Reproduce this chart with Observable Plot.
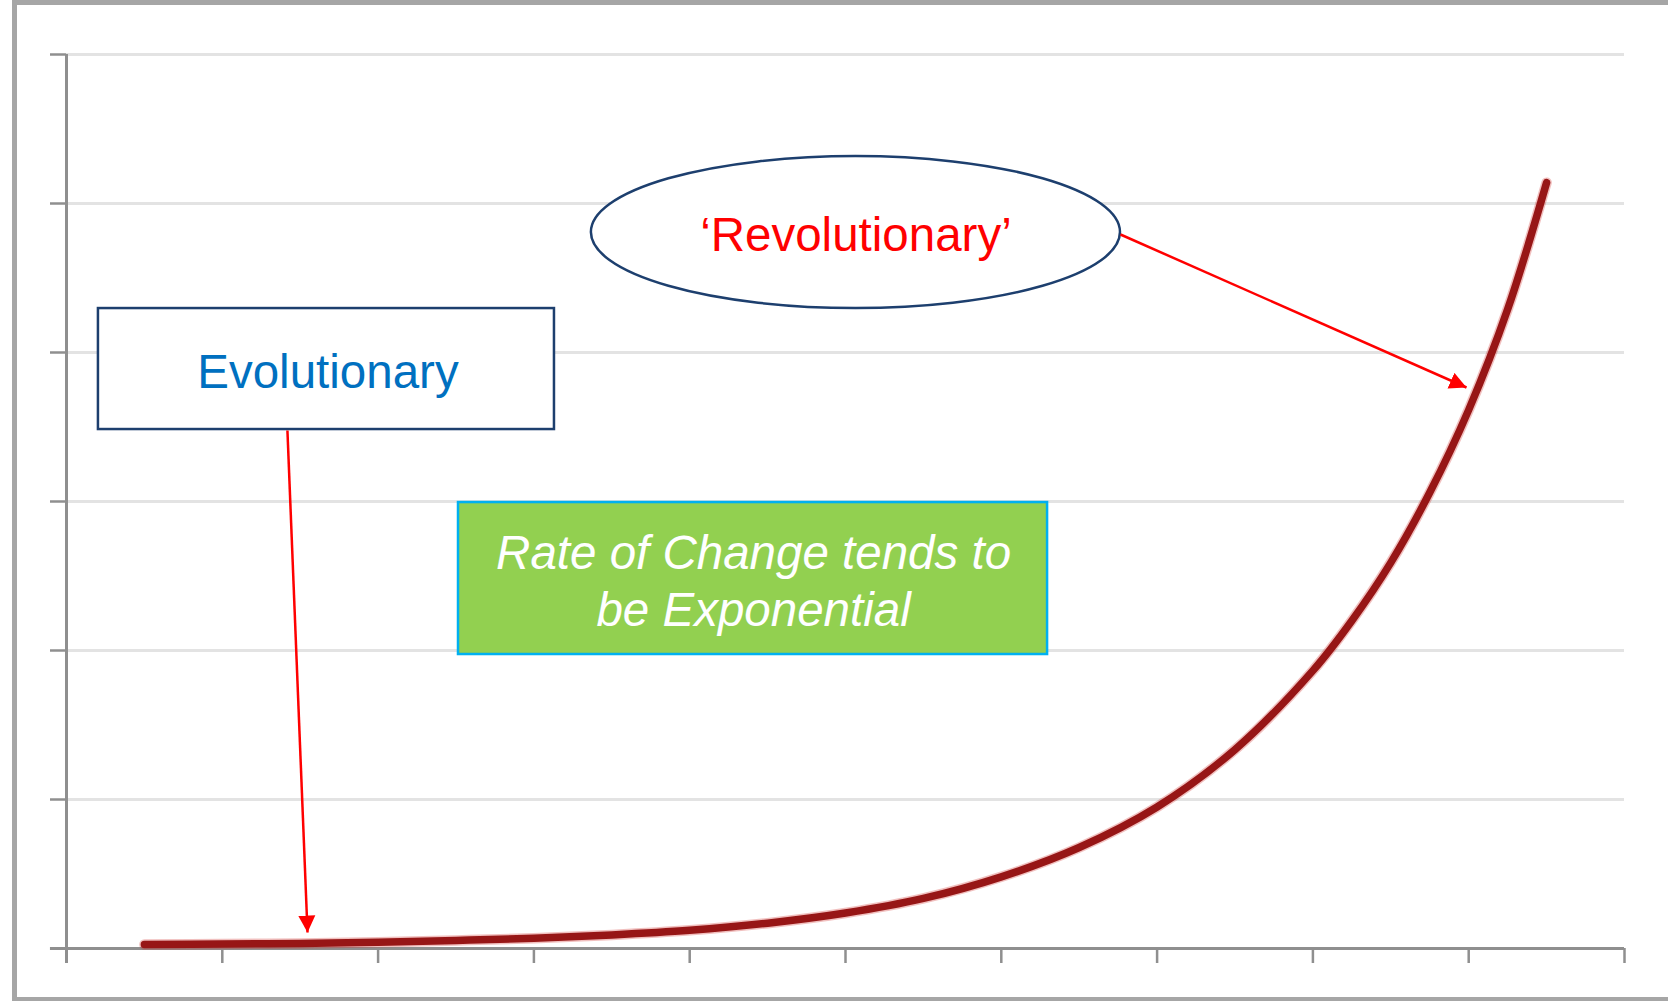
<!DOCTYPE html>
<html>
<head>
<meta charset="utf-8">
<script src="https://cdn.jsdelivr.net/npm/d3@7"></script>
<script src="https://cdn.jsdelivr.net/npm/@observablehq/plot@0.6"></script>
<style>
  html, body { margin: 0; padding: 0; background: #fff; overflow: hidden; }
  #wrap { position: relative; width: 1668px; height: 1001px; }
  #wrap svg { display: block; max-width: none; }
  #border {
    position: absolute; left: 12px; top: 0; width: 1680px; height: 1001px;
    box-sizing: border-box; pointer-events: none;
    border-top: 5px solid #a6a6a6; border-left: 5px solid #a6a6a6; border-bottom: 4px solid #a6a6a6;
  }
</style>
</head>
<body>
<div id="wrap"><div id="border"></div></div>
<script>
// ---- data ----
const xTicks = [0, 1, 2, 3, 4, 5, 6, 7, 8, 9, 10];
const yTicks = [0, 1, 2, 3, 4, 5, 6];
const gridTicks = [1, 2, 3, 4, 5, 6];

const curveX = [0.5, 1.0, 1.5, 2.0, 2.5, 3.0, 3.5, 4.0, 4.5, 5.0, 5.5, 6.0, 6.5, 7.0, 7.5, 8.0, 8.25, 8.5, 8.75, 9.0, 9.25, 9.5];
const curveY = [0.027, 0.030, 0.034, 0.042, 0.054, 0.069, 0.091, 0.122, 0.170, 0.238, 0.336, 0.481, 0.678, 0.950, 1.335, 1.865, 2.20, 2.59, 3.06, 3.615, 4.29, 5.14];

// annotations (in data units)
const labels = ["Evolutionary", "\u2018Revolutionary\u2019", "Rate of Change tends to\nbe Exponential"];
const evoBox = {x1: 0.205, x2: 3.132, y1: 3.483, y2: 4.295};
const greenBox = {x1: 2.516, x2: 6.297, y1: 1.973, y2: 2.993};
const ellipseAnno = {cx: 5.067, cy: 4.805, rx: 1.698, ry: 0.51};
const labelPos = [
  {x: 1.678, y: 3.866},
  {x: 5.067, y: 4.785},
  {x: 4.41, y: 2.48}
];
const arrowFrom = [{x: 1.418, y: 3.477}, {x: 6.765, y: 4.792}];
const arrowTo = [{x: 1.547, y: 0.107}, {x: 8.986, y: 3.765}];

// ---- build tables ----
const series = curveX.map((x, i) => ({x, y: curveY[i]}));
const arrows = arrowFrom.map((f, i) => ({x1: f.x, y1: f.y, x2: arrowTo[i].x, y2: arrowTo[i].y}));

const FONT = "'Liberation Sans', Arial, Helvetica, sans-serif";
const AXIS = "#8f8f8f";
const NAVY = "#1d3f6e";

function filledArrow(color, context) {
  const ns = "http://www.w3.org/2000/svg";
  const doc = (context && context.document) || document;
  const m = doc.createElementNS(ns, "marker");
  m.setAttribute("viewBox", "-17 -9 17 18");
  m.setAttribute("markerWidth", 17);
  m.setAttribute("markerHeight", 18);
  m.setAttribute("markerUnits", "userSpaceOnUse");
  m.setAttribute("refX", 0);
  m.setAttribute("refY", 0);
  m.setAttribute("orient", "auto");
  const p = doc.createElementNS(ns, "path");
  p.setAttribute("d", "M0,0L-17,-8.5L-17,8.5Z");
  p.setAttribute("fill", color);
  p.setAttribute("stroke", "none");
  m.appendChild(p);
  return m;
}

function ellipseMark(index, scales) {
  const ns = "http://www.w3.org/2000/svg";
  const e = document.createElementNS(ns, "ellipse");
  const cx = scales.x(ellipseAnno.cx), cy = scales.y(ellipseAnno.cy);
  e.setAttribute("cx", cx);
  e.setAttribute("cy", cy);
  e.setAttribute("rx", Math.abs(scales.x(ellipseAnno.cx + ellipseAnno.rx) - cx));
  e.setAttribute("ry", Math.abs(scales.y(ellipseAnno.cy + ellipseAnno.ry) - cy));
  e.setAttribute("fill", "white");
  e.setAttribute("stroke", NAVY);
  e.setAttribute("stroke-width", 2.5);
  return e;
}

const chart = Plot.plot({
  width: 1668,
  height: 1001,
  marginLeft: 66,
  marginRight: 44,
  marginTop: 54,
  marginBottom: 53,
  style: {fontFamily: FONT, background: "transparent"},
  x: {domain: [0, 10]},
  y: {domain: [0, 6]},
  marks: [
    Plot.gridY({ticks: gridTicks, stroke: "#e3e3e3", strokeOpacity: 1, strokeWidth: 3}),
    Plot.axisX({ticks: xTicks, tickSize: 15, tickFormat: () => "", stroke: AXIS, strokeWidth: 2.5}),
    Plot.axisY({ticks: yTicks, tickSize: 16, tickFormat: () => "", stroke: AXIS, strokeWidth: 2.5}),
    Plot.ruleX([0], {y1: -0.1, y2: 6, stroke: AXIS, strokeWidth: 3}),
    Plot.ruleY([0], {x1: -0.103, x2: 10, stroke: AXIS, strokeWidth: 3}),
    Plot.line(series, {x: "x", y: "y", curve: "catmull-rom", stroke: "#d0302a", strokeWidth: 10.5, strokeOpacity: 0.3, strokeLinecap: "round"}),
    Plot.line(series, {x: "x", y: "y", curve: "catmull-rom", stroke: "#971616", strokeWidth: 7.5, strokeLinecap: "round"}),
    Plot.rect([evoBox], {x1: "x1", x2: "x2", y1: "y1", y2: "y2", fill: "white", stroke: NAVY, strokeWidth: 2.5}),
    Plot.rect([greenBox], {x1: "x1", x2: "x2", y1: "y1", y2: "y2", fill: "#92d050", stroke: "#00b0f0", strokeWidth: 2.5}),
    ellipseMark,
    Plot.text([labels[0]], {x: labelPos[0].x, y: labelPos[0].y, text: d => d, fill: "#0070c0", fontSize: 47.5, fontFamily: FONT}),
    Plot.text([labels[1]], {x: labelPos[1].x, y: labelPos[1].y, text: d => d, fill: "#ff0000", fontSize: 47.5, fontFamily: FONT}),
    Plot.text([labels[2]], {x: labelPos[2].x, y: labelPos[2].y, text: d => d, fill: "white", fontSize: 47.5, fontStyle: "italic", lineHeight: 1.22, fontFamily: FONT}),
    Plot.link(arrows, {x1: "x1", y1: "y1", x2: "x2", y2: "y2", stroke: "#ff0000", strokeWidth: 2.5, markerEnd: filledArrow})
  ]
});
document.getElementById("wrap").insertBefore(chart, document.getElementById("border"));
</script>
</body>
</html>
